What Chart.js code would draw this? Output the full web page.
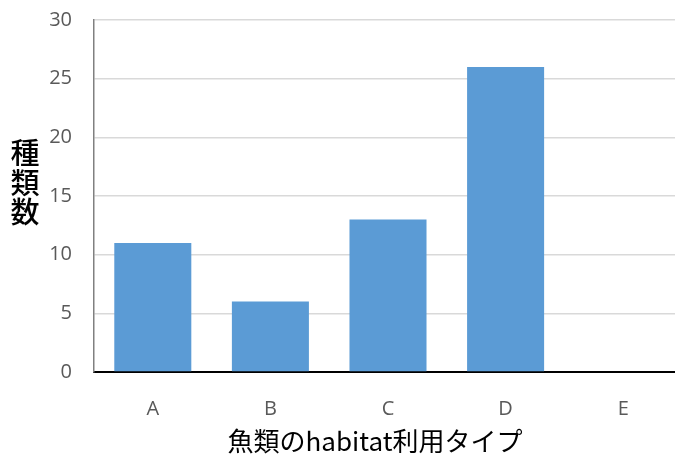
<!DOCTYPE html>
<html>
<head>
<meta charset="utf-8">
<script src="https://cdn.jsdelivr.net/npm/chart.js@4"></script>
<style>
  html, body { margin: 0; padding: 0; background: #fff; overflow: hidden; }
  #wrap { position: relative; width: 682px; height: 459px; }
</style>
</head>
<body>
<div id="wrap"><canvas id="chart"></canvas></div>
<script>
// 魚類のhabitat利用タイプ別の種類数
const categories = ['A', 'B', 'C', 'D', 'E'];
const speciesCounts = [11, 6, 13, 26, 0];
const yTitleChars = ['種', '類', '数'];
const xTitle = '魚類のhabitat利用タイプ';

const tickFont = { family: "'Open Sans', 'Noto Sans', sans-serif", size: 20 };
const cjkFont = "'Noto Sans CJK JP', sans-serif";

// 縦書きの軸タイトルと横軸タイトルを描く
const axisTitles = {
  id: 'axisTitles',
  afterDraw(chart) {
    const ctx = chart.ctx;
    ctx.save();
    ctx.fillStyle = '#000';
    ctx.textAlign = 'center';
    ctx.textBaseline = 'middle';
    ctx.font = '500 29px ' + cjkFont;
    yTitleChars.forEach((ch, i) => {
      ctx.fillText(ch, 25, 153 + i * 29.5);
    });
    ctx.font = '26px ' + cjkFont;
    ctx.fillText(xTitle, 375, 441);
    ctx.restore();
  }
};

new Chart(document.getElementById('chart'), {
  type: 'bar',
  data: {
    labels: categories,
    datasets: [{
      data: speciesCounts,
      backgroundColor: '#5B9BD5',
      borderWidth: 0,
      categoryPercentage: 1.0,
      barPercentage: 0.655
    }]
  },
  options: {
    responsive: true,
    maintainAspectRatio: false,
    animation: false,
    layout: { padding: 0 },
    plugins: {
      legend: { display: false },
      tooltip: { enabled: false }
    },
    scales: {
      x: {
        grid: { display: false, drawTicks: false },
        border: { color: '#000', width: 2 },
        ticks: { color: '#595959', font: tickFont, padding: 25 },
        afterFit(scale) {
          scale.height = 87;
          scale.paddingLeft = 0;
          scale.paddingRight = 0;
        }
      },
      y: {
        min: 0,
        max: 30,
        ticks: { stepSize: 5, color: '#595959', font: tickFont, padding: 22 },
        grid: { color: '#D9D9D9', lineWidth: 1.5, drawTicks: false },
        border: { color: '#808080', width: 1.5 },
        afterFit(scale) {
          scale.width = 94;
          scale.paddingTop = 20;
          scale.paddingBottom = 0;
        }
      }
    }
  },
  plugins: [axisTitles]
});
</script>
</body>
</html>
